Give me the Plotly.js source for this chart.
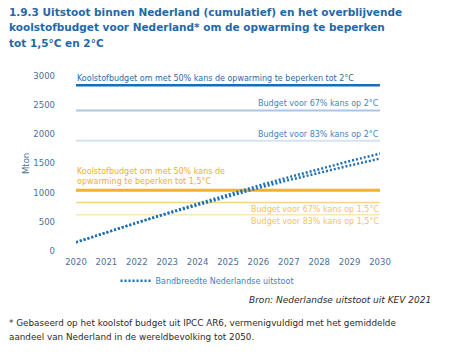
<!DOCTYPE html>
<html>
<head>
<meta charset="utf-8">
<script src="https://cdn.plot.ly/plotly-3.0.1.min.js"></script>
<style>html,body{margin:0;padding:0;background:#fff;}#chart{width:474px;height:358px;}</style>
</head>
<body>
<div id="chart"></div>
<script>
// ---- data ----
const years = [2020, 2021, 2022, 2023, 2024, 2025, 2026, 2027, 2028, 2029, 2030];
const emissionsUpper = [150, 320, 490, 650, 810, 970, 1120, 1265, 1405, 1540, 1670];
const emissionsLower = [150, 320, 485, 640, 790, 940, 1080, 1215, 1345, 1465, 1585];
const budgetLabels = [
  "Koolstofbudget om met 50% kans de opwarming te beperken tot 2°C",
  "Budget voor 67% kans op 2°C",
  "Budget voor 83% kans op 2°C",
  "Koolstofbudget om met 50% kans de<br>opwarming te beperken tot 1,5°C",
  "Budget voor 67% kans op 1,5°C",
  "Budget voor 83% kans op 1,5°C"
];
const budgetValues = [2840, 2410, 1890, 1040, 830, 620];
const yTicks = [0, 500, 1000, 1500, 2000, 2500, 3000];
const xTicks = years;
const legendLabel = "Bandbreedte Nederlandse uitstoot";
const titleLines = [
  "1.9.3 Uitstoot binnen Nederland (cumulatief) en het overblijvende",
  "koolstofbudget voor Nederland* om de opwarming te beperken",
  "tot 1,5°C en 2°C"
];
const sourceText = "Bron: Nederlandse uitstoot uit KEV 2021";
const footnoteLines = [
  "* Gebaseerd op het koolstof budget uit IPCC AR6, vermenigvuldigd met het gemiddelde",
  "aandeel van Nederland in de wereldbevolking tot 2050."
];

// ---- styles ----
const lineColors = ["#1a6cb4", "#a9c7e3", "#d4e3f0", "#f2b130", "#f8d48a", "#fbe6ba"];
const lineWidths = [2.5, 2, 2, 3, 1.5, 1.5];
const labelColors = ["#2a6aa8", "#4583bf", "#4583bf", "#f0b02c", "#f5c358", "#f5c358"];
const labelAlign = ["left", "right", "right", "left", "right", "right"];
const labelVAnchor = ["bottom", "bottom", "bottom", "bottom", "top", "top"];
const labelShift = [1, 1, 1, 3, 1, 1];
const FONT = "DejaVu Sans";
const x0 = years[0], x1 = years[years.length - 1];

// pixel helpers for page-level texts (plot area: left 76, width 304, top 76, height 175)
const PL = 76, PW = 304, PT = 76, PH = 175;
const px = v => (v - PL) / PW;
const py = v => (PT + PH - v) / PH;

const traces = [];
budgetValues.forEach((v, i) => {
  traces.push({
    type: "scatter", mode: "lines", x: [x0, x1], y: [v, v],
    line: {color: lineColors[i], width: lineWidths[i]},
    showlegend: false, hoverinfo: "skip"
  });
});
traces.push({
  type: "scatter", mode: "lines", x: years, y: emissionsLower,
  line: {color: "#1f6fb5", width: 2.5, dash: "2px,2px"},
  showlegend: false, hoverinfo: "skip"
});
traces.push({
  type: "scatter", mode: "lines", x: years, y: emissionsUpper, name: legendLabel,
  line: {color: "#1f6fb5", width: 2.5, dash: "2px,2px"},
  showlegend: true, hoverinfo: "skip"
});

const annotations = budgetValues.map((v, i) => ({
  x: labelAlign[i] === "left" ? x0 : x1, y: v, xref: "x", yref: "y",
  xanchor: labelAlign[i], yanchor: labelVAnchor[i], align: "left",
  yshift: labelVAnchor[i] === "bottom" ? labelShift[i] : -labelShift[i],
  text: budgetLabels[i], showarrow: false, borderpad: 0,
  font: {family: FONT, size: 8, color: labelColors[i]}
}));
const titleY = [11.7, 27.2, 42.7];
titleLines.forEach((t, i) => annotations.push({
  text: t, xref: "paper", yref: "paper", x: px(8), y: py(titleY[i]),
  xanchor: "left", yanchor: "middle", showarrow: false, borderpad: 0,
  font: {family: FONT, size: 10.5, color: "#1f69a8", weight: "bold"}
}));
annotations.push({
  text: "Mton", textangle: -90, xref: "paper", yref: "paper", x: px(26), y: py(164),
  xanchor: "center", yanchor: "middle", showarrow: false,
  font: {family: FONT, size: 8.5, color: "#4d6f95"}
});
annotations.push({
  text: "<i>" + sourceText + "</i>", xref: "paper", yref: "paper",
  x: px(433), y: py(300), xanchor: "right", yanchor: "middle", showarrow: false,
  font: {family: FONT, size: 9, color: "#2b2b2b"}
});
const footY = [323, 337];
footnoteLines.forEach((t, i) => annotations.push({
  text: t, xref: "paper", yref: "paper", x: px(8), y: py(footY[i]),
  xanchor: "left", yanchor: "middle", showarrow: false, borderpad: 0,
  font: {family: FONT, size: 8.8, color: "#2b2b2b"}
}));

const layout = {
  width: 474, height: 358,
  margin: {l: PL, r: 474 - PL - PW, t: PT, b: 358 - PT - PH, pad: 0},
  paper_bgcolor: "#fff", plot_bgcolor: "#fff",
  xaxis: {
    range: [x0, x1], tickvals: xTicks, ticktext: xTicks.map(String),
    showgrid: false, zeroline: false, showline: false, ticks: "",
    tickfont: {family: FONT, size: 8.5, color: "#4d6f95"}, ticklabelstandoff: 4
  },
  yaxis: {
    range: [0, 3000], tickvals: yTicks, ticktext: yTicks.map(String),
    showgrid: false, zeroline: false, showline: false, ticks: "",
    tickfont: {family: FONT, size: 8.5, color: "#4d6f95"}, ticklabelstandoff: 20
  },
  legend: {
    orientation: "h", x: 0.13, y: -0.17, xanchor: "left", yanchor: "middle",
    font: {family: FONT, size: 8, color: "#3d7fbf"}, bgcolor: "rgba(0,0,0,0)"
  },
  annotations: annotations,
  showlegend: true
};

Plotly.newPlot("chart", traces, layout, {staticPlot: true, displayModeBar: false});
</script>
</body>
</html>
